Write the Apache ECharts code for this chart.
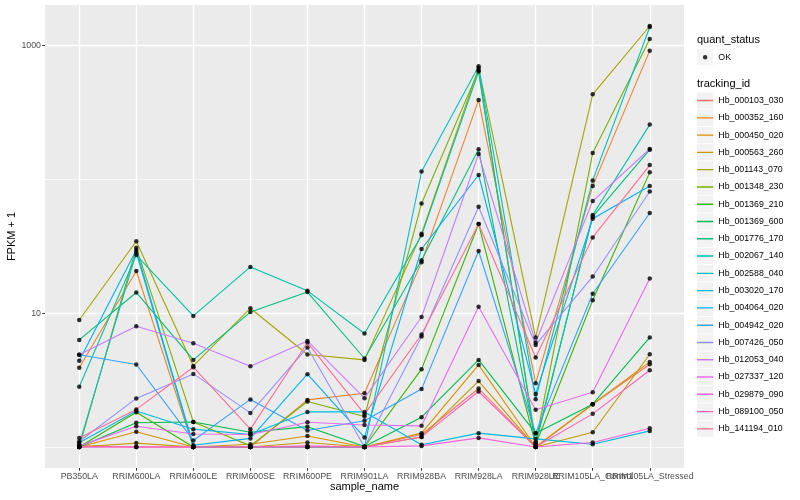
<!DOCTYPE html>
<html><head><meta charset="utf-8">
<script src="https://cdn.jsdelivr.net/npm/echarts@6/dist/echarts.min.js"></script>
<style>html,body{margin:0;padding:0;background:#fff}#c{width:800px;height:500px}</style>
</head><body><div id="c"></div>
<script>
// categories (sample_name)
const categories = ['PB350LA','RRIM600LA','RRIM600LE','RRIM600SE','RRIM600PE','RRIM901LA','RRIM928BA','RRIM928LA','RRIM928LE','RRIM105LA_Control','RRIM105LA_Stressed'];
const trackingIds = ['Hb_000103_030','Hb_000352_160','Hb_000450_020','Hb_000563_260','Hb_001143_070','Hb_001348_230','Hb_001369_210','Hb_001369_600','Hb_001776_170','Hb_002067_140','Hb_002588_040','Hb_003020_170','Hb_004064_020','Hb_004942_020','Hb_007426_050','Hb_012053_040','Hb_027337_120','Hb_029879_090','Hb_089100_050','Hb_141194_010'];
const quantStatus = ['OK'];
// FPKM + 1 values per tracking_id (one per sample)
const hb_000103_030 = [1.02, 1.0, 1.0, 1.0, 1.0, 1.0, 1.24, 2.74, 1.0, 2.09, 4.16];
const hb_000352_160 = [3.91, 20.7, 1.0, 1.0, 2.25, 2.52, 24.1, 393, 3.00, 89.2, 918];
const hb_000450_020 = [1.0, 1.30, 1.0, 1.05, 1.21, 1.0, 1.27, 4.11, 1.0, 2.09, 4.33];
const hb_000563_260 = [1.0, 1.07, 1.0, 1.0, 1.08, 1.0, 1.19, 3.11, 1.0, 1.29, 4.94];
const hb_001143_070 = [8.9, 34.5, 4.04, 10.9, 4.92, 4.48, 39.3, 680, 6.59, 433, 1403];
const hb_001348_230 = [1.0, 30.9, 1.54, 1.02, 2.19, 1.69, 66.2, 654, 1.08, 158, 1122];
const hb_001369_210 = [1.0, 1.82, 1.0, 1.0, 1.0, 1.0, 3.82, 46.4, 1.04, 12.5, 113];
const hb_001369_600 = [1.0, 1.52, 1.54, 1.29, 1.42, 1.01, 1.67, 4.48, 1.27, 2.09, 6.59];
const hb_001776_170 = [6.32, 14.3, 4.48, 10.2, 14.4, 4.59, 24.9, 168, 1.08, 52.7, 167];
const hb_002067_140 = [2.82, 27.2, 9.55, 22.2, 14.7, 7.06, 38.2, 640, 1.04, 54.2, 257];
const hb_002588_040 = [1.047, 28.4, 1.0, 1.0, 1.0, 1.0, 114.7, 701, 2.28, 98.4, 1380];
const hb_003020_170 = [1.076, 1.86, 1.36, 1.24, 1.83, 1.83, 1.04, 1.27, 1.15, 1.05, 1.32];
const hb_004064_020 = [4.41, 29.7, 1.03, 1.16, 3.50, 1.18, 30.2, 108, 2.49, 50.9, 89.2];
const hb_004942_020 = [4.89, 4.14, 1.12, 2.27, 1.33, 1.57, 2.71, 29.2, 1.27, 14.0, 56.1];
const hb_007426_050 = [1.10, 2.31, 3.52, 1.80, 5.55, 1.0, 6.70, 62.5, 5.80, 18.8, 81.3];
const hb_012053_040 = [4.89, 8.0, 5.97, 4.02, 6.21, 2.32, 9.38, 155, 6.04, 68.9, 169];
const hb_027337_120 = [1.02, 1.43, 1.25, 1.24, 1.53, 1.46, 1.44, 11.2, 1.90, 2.57, 18.2];
const hb_029879_090 = [1.0, 1.0, 1.0, 1.0, 1.0, 1.0, 1.02, 1.17, 1.0, 1.08, 1.38];
const hb_089100_050 = [1.0, 1.0, 1.0, 1.0, 1.02, 1.0, 1.19, 2.60, 1.0, 1.77, 3.75];
const hb_141194_010 = [1.17, 1.91, 3.95, 1.36, 6.04, 1.76, 6.93, 46.4, 4.67, 36.9, 128];
const seriesValues = [hb_000103_030, hb_000352_160, hb_000450_020, hb_000563_260, hb_001143_070, hb_001348_230, hb_001369_210, hb_001369_600, hb_001776_170, hb_002067_140, hb_002588_040, hb_003020_170, hb_004064_020, hb_004942_020, hb_007426_050, hb_012053_040, hb_027337_120, hb_029879_090, hb_089100_050, hb_141194_010];
// axis ticks
const yMajorTicks = [10, 1000];
const yMinorTicks = [1, 100];
const xTicks = categories.map((c, i) => i);
const xTicksEven = xTicks.filter(i => i % 2 === 0);
const xTicksOdd = xTicks.filter(i => i % 2 === 1);

const palette = ['#F8766D','#EA8331','#D89000','#C09B00','#A3A500','#7CAE00','#39B600','#00BB4E','#00BF7D','#00C1A3','#00BFC4','#00BAE0','#00B0F6','#35A2FF','#9590FF','#C77CFF','#E76BF3','#FA62DB','#FF62BC','#FF6C91'];
const FONT = '"Liberation Sans", Arial, Helvetica, sans-serif';

// legend key icons (16.3 x 16.3 key box; tiny corner specks fix the bounding box)
const KEY_FRAME = 'M0,0h0.01v0.01h-0.01Z M16.3,16.3h-0.01v-0.01h0.01Z ';
const LINE_ICON = 'path://' + KEY_FRAME + 'M0,7.45h16.3v1.4h-16.3Z';
const DOT_ICON = 'path://' + KEY_FRAME + 'M10.4,8.15A2.25,2.25,0,1,1,5.9,8.15A2.25,2.25,0,1,1,10.4,8.15Z';

const chart = echarts.init(document.getElementById('c'), null, {renderer: 'canvas'});

const lineSeries = trackingIds.map((id, k) => ({
  name: id, type: 'line', xAxisIndex: 0, yAxisIndex: 0,
  data: seriesValues[k].map((v, i) => [i, v]),
  symbol: 'none', showSymbol: false,
  lineStyle: {width: 1.1, color: palette[k]},
  itemStyle: {color: palette[k]},
  z: 2, silent: true
}));
const okSeries = {
  name: quantStatus[0], type: 'scatter', xAxisIndex: 0, yAxisIndex: 0,
  data: seriesValues.flatMap(vals => vals.map((v, i) => [i, v])),
  symbol: 'circle', symbolSize: 4.5, itemStyle: {color: '#000000'}, z: 3, silent: true
};

const xBase = {type: 'value', gridIndex: 0, min: -0.6, max: 10.6, position: 'bottom', axisLine: {show: false, onZero: false}};
const xLabelStyle = {formatter: v => categories[Math.round(v)], fontSize: 8.8, color: '#4D4D4D', margin: 4, fontFamily: FONT, hideOverlap: false};
const yBase = {type: 'log', logBase: 10, min: 0.697, max: 2014, gridIndex: 0, position: 'left', axisLine: {show: false, onZero: false}};
const legendCommon = {orient: 'vertical', left: 697, padding: 0, itemWidth: 16.3, itemHeight: 16.3, itemGap: 0.98, selectedMode: false, symbolKeepAspect: false};

chart.setOption({
  animation: false,
  color: palette,
  textStyle: {fontFamily: FONT},
  title: [
    {text: 'quant_status', left: 697, top: 34, padding: 0, textStyle: {fontSize: 11, fontWeight: 'normal', color: '#000', fontFamily: FONT}},
    {text: 'tracking_id', left: 697, top: 78, padding: 0, textStyle: {fontSize: 11, fontWeight: 'normal', color: '#000', fontFamily: FONT}}
  ],
  grid: [{left: 45, right: 116, top: 5, bottom: 32, show: true, backgroundColor: '#EBEBEB', borderWidth: 0, containLabel: false, outerBoundsMode: 'none'}],
  xAxis: [
    Object.assign({}, xBase, {
      axisTick: {show: true, customValues: xTicks, length: 2.7, lineStyle: {color: '#333333', width: 1}},
      axisLabel: Object.assign({customValues: xTicksEven}, xLabelStyle),
      splitLine: {show: true, lineStyle: {color: '#FFFFFF', width: 1.4}},
      name: 'sample_name', nameLocation: 'middle', nameGap: 13, nameMoveOverlap: false,
      nameTextStyle: {fontSize: 11, color: '#000', fontFamily: FONT}
    }),
    Object.assign({}, xBase, {
      axisTick: {show: false, customValues: xTicksOdd},
      axisLabel: Object.assign({customValues: xTicksOdd}, xLabelStyle),
      splitLine: {show: false}
    })
  ],
  yAxis: [
    Object.assign({}, yBase, {
      axisTick: {show: true, customValues: yMajorTicks, length: 2.7, lineStyle: {color: '#333333', width: 1}},
      axisLabel: {customValues: yMajorTicks, formatter: v => String(Math.round(v)), fontSize: 8.8, color: '#4D4D4D', margin: 4, fontFamily: FONT},
      splitLine: {show: true, lineStyle: {color: '#FFFFFF', width: 1.4}},
      name: 'FPKM + 1', nameLocation: 'middle', nameGap: 28, nameRotate: 90, nameMoveOverlap: false,
      nameTextStyle: {fontSize: 11, color: '#000', fontFamily: FONT}
    }),
    Object.assign({}, yBase, {
      axisTick: {show: false, customValues: yMinorTicks},
      axisLabel: {show: false, customValues: yMinorTicks},
      splitLine: {show: true, lineStyle: {color: '#FFFFFF', width: 0.7}}
    })
  ],
  legend: [
    Object.assign({}, legendCommon, {top: 49, icon: 'rect', data: quantStatus, itemStyle: {color: '#F2F2F2', borderWidth: 0}, textStyle: {color: 'rgba(0,0,0,0)', fontSize: 8.8, fontFamily: FONT}}),
    Object.assign({}, legendCommon, {top: 49, icon: DOT_ICON, data: quantStatus, itemStyle: {color: '#000000', borderWidth: 0}, textStyle: {color: '#000', fontSize: 8.8, fontFamily: FONT}}),
    Object.assign({}, legendCommon, {top: 92.4, icon: 'rect', data: trackingIds, itemStyle: {color: '#F2F2F2', borderWidth: 0}, textStyle: {color: 'rgba(0,0,0,0)', fontSize: 8.8, fontFamily: FONT}}),
    Object.assign({}, legendCommon, {top: 92.4, icon: LINE_ICON, data: trackingIds, itemStyle: {borderWidth: 0}, textStyle: {color: '#000', fontSize: 8.8, fontFamily: FONT}})
  ],
  series: lineSeries.concat([okSeries])
});
</script>
</body></html>
